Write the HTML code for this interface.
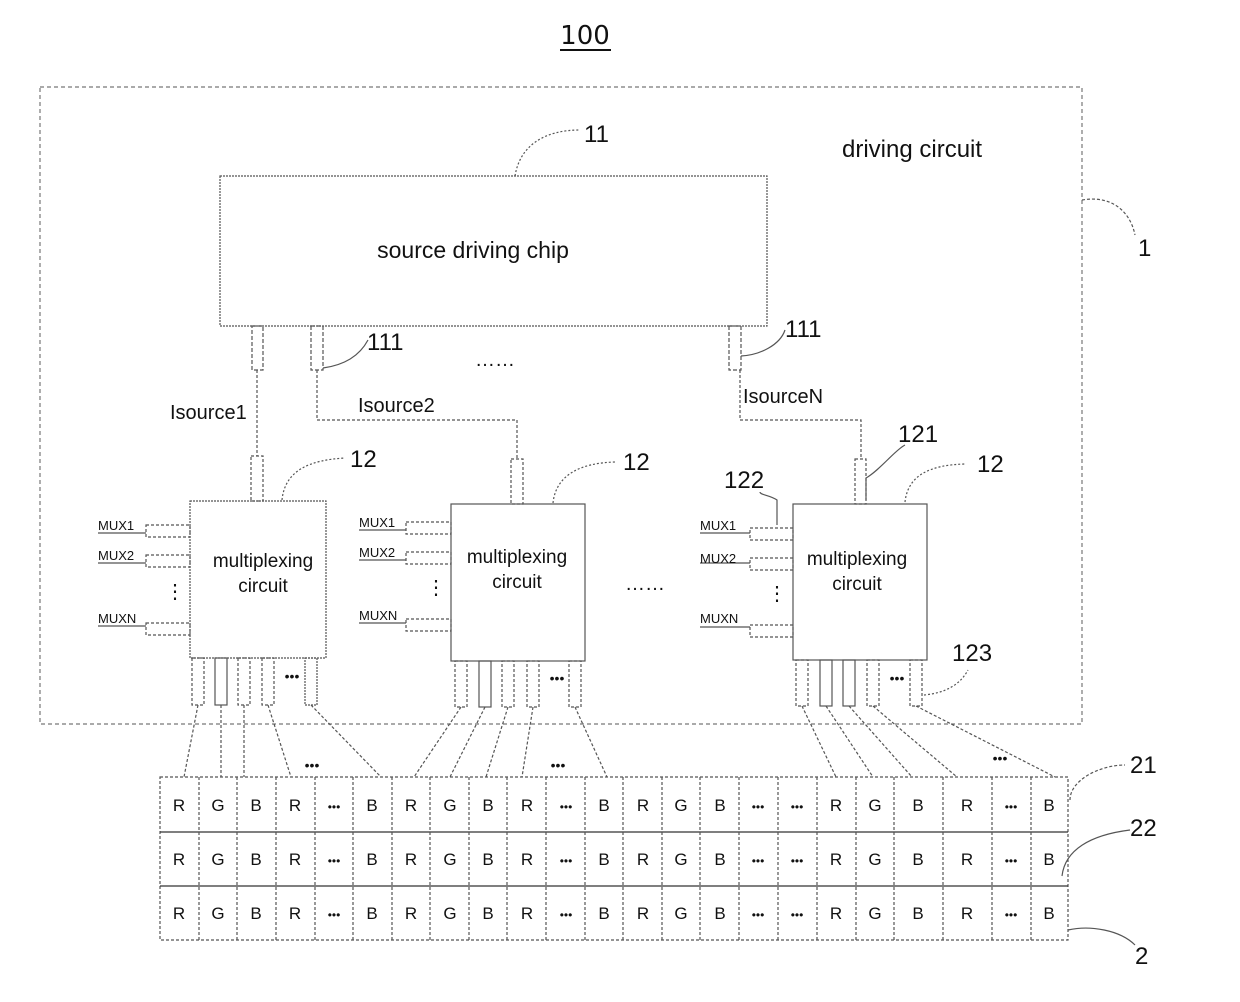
<!DOCTYPE html>
<html><head><meta charset="utf-8"><style>
body{margin:0;background:#fff;}
svg{display:block;font-family:"Liberation Sans",sans-serif;}
.cal{font-family:"DejaVu Sans","Liberation Sans",sans-serif;}
</style></head><body>
<svg width="1240" height="1002" viewBox="0 0 1240 1002" xmlns="http://www.w3.org/2000/svg">
<g fill="none" stroke="#555" stroke-width="1.2">
<!-- outer box -->
<rect x="40" y="87" width="1042" height="637" stroke-dasharray="4,3" stroke="#777"/>
<!-- chip -->
<rect x="220" y="176" width="547" height="150" stroke-dasharray="2,1"/>
<!-- chip pins -->
<rect x="252" y="326" width="11" height="44" stroke-dasharray="4,2"/>
<rect x="311" y="326" width="12" height="44" stroke-dasharray="4,2"/>
<rect x="729" y="326" width="12" height="44" stroke-dasharray="4,2"/>
<!-- wires -->
<path d="M257 370 V456" stroke-dasharray="3,2"/>
<path d="M317 370 V420 H517 V459" stroke-dasharray="3,2"/>
<path d="M740 370 V420 H861 V459" stroke-dasharray="3,2"/>
<!-- leader curves -->
<path d="M515 176 C520 145 545 130 580 130" stroke-dasharray="2,2"/>
<path d="M323 368 C345 365 360 355 368 340"/>
<path d="M741 356 C760 355 780 345 785 330"/>
<path d="M282 500 C285 470 310 460 345 458" stroke-dasharray="2,2"/>
<path d="M553 503 C556 475 580 463 615 462" stroke-dasharray="2,2"/>
<path d="M905 502 C908 475 930 465 965 464" stroke-dasharray="2,2"/>
<path d="M866 500 V478 C880 470 895 450 905 445"/>
<path d="M777 525 V500 C770 495 760 495 760 492"/>
<path d="M924 695 C945 693 960 685 968 670" stroke-dasharray="2,2"/>
<path d="M1082 200 C1110 195 1130 210 1135 235" stroke-dasharray="3,2"/>
<path d="M1070 800 C1070 780 1100 765 1125 765" stroke-dasharray="3,2"/>
<path d="M1062 876 C1065 850 1090 835 1130 830"/>
<path d="M1068 930 C1090 925 1120 930 1135 945"/>
<!-- mux boxes -->
<rect x="190" y="501" width="136" height="157" stroke-dasharray="2,1"/>
<rect x="451" y="504" width="134" height="157"/>
<rect x="793" y="504" width="134" height="156"/>
<!-- mux top pins -->
<rect x="251" y="456" width="12" height="45" stroke-dasharray="3,2"/>
<rect x="511" y="459" width="12" height="45" stroke-dasharray="3,2"/>
<rect x="855" y="459" width="11" height="45" stroke-dasharray="3,2"/>
<!-- mux input rects -->
<rect x="146" y="525" width="44" height="12" stroke-dasharray="3,2"/>
<rect x="146" y="555" width="44" height="12" stroke-dasharray="3,2"/>
<rect x="146" y="623" width="44" height="12" stroke-dasharray="3,2"/>
<rect x="406" y="522" width="45" height="12" stroke-dasharray="3,2"/>
<rect x="406" y="552" width="45" height="12" stroke-dasharray="3,2"/>
<rect x="406" y="619" width="45" height="12" stroke-dasharray="3,2"/>
<rect x="750" y="528" width="43" height="12" stroke-dasharray="3,2"/>
<rect x="750" y="558" width="43" height="12" stroke-dasharray="3,2"/>
<rect x="750" y="625" width="43" height="12" stroke-dasharray="3,2"/>
<!-- label underlines -->
<path d="M98 533 H146 M98 563 H146 M98 626 H146 M359 530 H406 M359 560 H406 M359 623 H406 M700 533 H750 M700 563 H750 M700 627 H750"/>
<!-- bottom pins mux1 -->
<rect x="192" y="658" width="12" height="47" stroke-dasharray="3,2"/>
<rect x="215" y="658" width="12" height="47"/>
<rect x="238" y="658" width="12" height="47" stroke-dasharray="3,2"/>
<rect x="262" y="658" width="12" height="47" stroke-dasharray="3,2"/>
<rect x="305" y="658" width="12" height="47" stroke-dasharray="2,1"/>
<rect x="455" y="661" width="12" height="46" stroke-dasharray="3,2"/>
<rect x="479" y="661" width="12" height="46"/>
<rect x="502" y="661" width="12" height="46" stroke-dasharray="3,2"/>
<rect x="527" y="661" width="12" height="46" stroke-dasharray="3,2"/>
<rect x="569" y="661" width="12" height="46" stroke-dasharray="3,2"/>
<rect x="796" y="660" width="12" height="46" stroke-dasharray="3,2"/>
<rect x="820" y="660" width="12" height="46"/>
<rect x="843" y="660" width="12" height="46"/>
<rect x="867" y="660" width="12" height="46" stroke-dasharray="3,2"/>
<rect x="910" y="660" width="12" height="46" stroke-dasharray="3,2"/>
<!-- fan-out lines -->
<path d="M198 705 L184 777 M221 705 V777 M244 705 V777 M268 705 L291 777 M311 705 L381 777" stroke-dasharray="3,2"/>
<path d="M461 707 L414 777 M485 707 L450 777 M508 707 L486 777 M533 707 L522 777 M575 707 L607 777" stroke-dasharray="3,2"/>
<path d="M802 706 L836 777 M826 706 L873 777 M849 706 L912 777 M873 706 L957 777 M916 706 L1055 777" stroke-dasharray="3,2"/>
<!-- pixel grid -->
<rect x="160" y="777" width="908" height="163" stroke-dasharray="3,2"/>
<path d="M160 832 H1068 M160 886 H1068" stroke="#333"/>
<path d="M199 777V940 M237 777V940 M276 777V940 M315 777V940 M353 777V940 M392 777V940 M430 777V940 M469 777V940 M507 777V940 M546 777V940 M585 777V940 M623 777V940 M662 777V940 M700 777V940 M739 777V940 M778 777V940 M817 777V940 M856 777V940 M894 777V940 M943 777V940 M992 777V940 M1031 777V940" stroke-dasharray="3,2"/>
</g>
<g fill="#111">
<text x="585" y="44" font-size="26" text-anchor="middle" class="cal">100</text>
<path d="M560 50 H611" stroke="#111" stroke-width="2"/>
<text x="584" y="142" font-size="24">11</text>
<text x="842" y="157" font-size="24">driving circuit</text>
<text x="1138" y="256" font-size="24">1</text>
<text x="473" y="258" font-size="23" text-anchor="middle">source driving chip</text>
<text x="367" y="350" font-size="24">111</text>
<text x="785" y="337" font-size="24">111</text>
<text x="475" y="366" font-size="20">……</text>
<text x="170" y="419" font-size="20">Isource1</text>
<text x="358" y="412" font-size="20">Isource2</text>
<text x="743" y="403" font-size="20">IsourceN</text>
<text x="350" y="467" font-size="24">12</text>
<text x="623" y="470" font-size="24">12</text>
<text x="977" y="472" font-size="24">12</text>
<text x="898" y="442" font-size="24">121</text>
<text x="724" y="488" font-size="24">122</text>
<text x="952" y="661" font-size="24">123</text>
<text x="1130" y="773" font-size="24">21</text>
<text x="1130" y="836" font-size="24">22</text>
<text x="1135" y="964" font-size="24">2</text>
<g font-size="19" text-anchor="middle">
<text x="263" y="567">multiplexing</text><text x="263" y="592">circuit</text>
<text x="517" y="563">multiplexing</text><text x="517" y="588">circuit</text>
<text x="857" y="565">multiplexing</text><text x="857" y="590">circuit</text>
</g>
<g font-size="13">
<text x="98" y="530">MUX1</text><text x="98" y="560">MUX2</text><text x="98" y="623">MUXN</text>
<text x="359" y="527">MUX1</text><text x="359" y="557">MUX2</text><text x="359" y="620">MUXN</text>
<text x="700" y="530">MUX1</text><text x="700" y="563">MUX2</text><text x="700" y="623">MUXN</text>
</g>
<g font-size="20" text-anchor="middle">
<text x="175" y="598">⋮</text><text x="436" y="594">⋮</text><text x="777" y="600">⋮</text>
<text x="645" y="590">……</text>
</g>
<g font-size="14" text-anchor="middle">
<text x="292" y="681">•••</text><text x="557" y="683">•••</text><text x="897" y="683">•••</text>
<text x="312" y="770">•••</text><text x="558" y="770">•••</text><text x="1000" y="763">•••</text>
</g>
<g font-size="17" text-anchor="middle" id="row">
<text x="179" y="811">R</text><text x="218" y="811">G</text><text x="256" y="811">B</text><text x="295" y="811">R</text><text x="334" y="811" font-size="12">•••</text><text x="372" y="811">B</text><text x="411" y="811">R</text><text x="450" y="811">G</text><text x="488" y="811">B</text><text x="527" y="811">R</text><text x="566" y="811" font-size="12">•••</text><text x="604" y="811">B</text><text x="643" y="811">R</text><text x="681" y="811">G</text><text x="720" y="811">B</text><text x="758" y="811" font-size="12">•••</text><text x="797" y="811" font-size="12">•••</text><text x="836" y="811">R</text><text x="875" y="811">G</text><text x="918" y="811">B</text><text x="967" y="811">R</text><text x="1011" y="811" font-size="12">•••</text><text x="1049" y="811">B</text>
</g>
<use href="#row" y="54"/>
<use href="#row" y="108"/>
</g>
</svg>
</body></html>
